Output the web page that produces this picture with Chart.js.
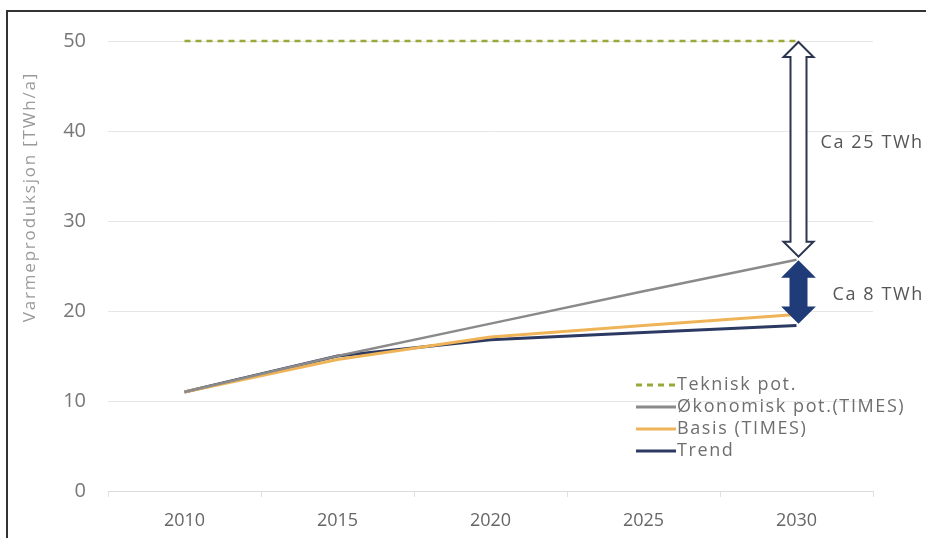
<!DOCTYPE html>
<html>
<head>
<meta charset="utf-8">
<script src="https://cdn.jsdelivr.net/npm/chart.js@4"></script>
<style>
body { margin: 0; background: #fff; }
#wrap { position: relative; width: 926px; height: 538px; overflow: hidden; }
#frame { position: absolute; left: 6px; top: 10px; right: -4px; bottom: -4px; border-left: 2px solid #333; border-top: 2px solid #333; pointer-events: none; }
</style>
</head>
<body>
<div id="wrap">
<canvas id="graph_varme" width="926" height="538"></canvas>
<div id="frame"></div>
</div>
<script>
// chart data
var years = ['2010', '2015', '2020', '2025', '2030']
var teknisk = [50, 50, 50, 50, 50]
var okonomisk = [11, 15, 18.6, 22.2, 25.7]
var basis = [11, 14.6, 17.1, 18.4, 19.6]
var trend = [11, 15, 16.8, 17.6, 18.4]
var yTicks = [0, 10, 20, 30, 40, 50]
var yTitle = 'Varmeproduksjon [TWh/a]'
var gapLabels = ['Ca 25 TWh', 'Ca 8 TWh']

function drawArrow(ctx, x, y1, y2, fill, stroke) {
	// vertical double headed arrow
	var bw = 8, hw = 15, hh = 15
	ctx.beginPath()
	ctx.moveTo(x, y1)
	ctx.lineTo(x + hw, y1 + hh)
	ctx.lineTo(x + bw, y1 + hh)
	ctx.lineTo(x + bw, y2 - hh)
	ctx.lineTo(x + hw, y2 - hh)
	ctx.lineTo(x, y2)
	ctx.lineTo(x - hw, y2 - hh)
	ctx.lineTo(x - bw, y2 - hh)
	ctx.lineTo(x - bw, y1 + hh)
	ctx.lineTo(x - hw, y1 + hh)
	ctx.closePath()
	ctx.fillStyle = fill
	ctx.fill()
	ctx.lineWidth = 2
	ctx.strokeStyle = stroke
	ctx.stroke()
}

var annotations = {
	id: 'annotations',
	afterDatasetsDraw: function (chart) {
		var ctx = chart.ctx
		var xs = chart.scales.x, ys = chart.scales.y
		var x = xs.getPixelForValue(4) + 2
		var yTop = ys.getPixelForValue(teknisk[4])
		var yMid = ys.getPixelForValue(okonomisk[4])
		var yLow = ys.getPixelForValue(trend[4])
		ctx.save()
		drawArrow(ctx, x, yTop + 1, yMid - 3, '#ffffff', '#2b3550')
		drawArrow(ctx, x, yMid + 2, yLow - 3, '#1f3b78', '#1f3b78')
		ctx.fillStyle = '#555'
		ctx.font = '18px "Open Sans", sans-serif'
		ctx.letterSpacing = '1.6px'
		ctx.textBaseline = 'middle'
		ctx.fillText(gapLabels[0], x + 22, (yTop + yMid) / 2 - 7)
		ctx.fillText(gapLabels[1], x + 34, (yMid + yLow) / 2 + 2)

		// y axis title
		ctx.save()
		ctx.translate(30, 197)
		ctx.rotate(-Math.PI / 2)
		ctx.textAlign = 'center'
		ctx.fillStyle = '#9a9a9a'
		ctx.font = '17px "Open Sans", sans-serif'
		ctx.letterSpacing = '1.8px'
		ctx.fillText(yTitle, 0, 0)
		ctx.restore()

		// legend inside plot
		var lx = 636, ly = 385
		ctx.font = '18px "Open Sans", sans-serif'
		ctx.letterSpacing = '1.6px'
		chart.data.datasets.forEach(function (ds, i) {
			var yy = ly + i * 22
			ctx.beginPath()
			ctx.setLineDash(ds.borderDash || [])
			ctx.strokeStyle = ds.borderColor
			ctx.lineWidth = 3
			ctx.moveTo(lx, yy)
			ctx.lineTo(lx + 40, yy)
			ctx.stroke()
			ctx.setLineDash([])
			ctx.fillStyle = '#6e6e6e'
			ctx.fillText(ds.label, lx + 41, yy)
		})
		ctx.restore()
	}
}

var config = {
	type: 'line',
	data: {
		labels: years,
		datasets: [
			{ label: 'Teknisk pot.', data: teknisk, borderColor: '#9aa83a', borderDash: [6, 5], borderWidth: 2.5 },
			{ label: 'Økonomisk pot.(TIMES)', data: okonomisk, borderColor: '#8a8a8a', borderWidth: 2.5 },
			{ label: 'Basis (TIMES)', data: basis, borderColor: '#f0b458', borderWidth: 3 },
			{ label: 'Trend', data: trend, borderColor: '#2c3a63', borderWidth: 3 }
		]
	},
	options: {
		responsive: false,
		animation: false,
		clip: false,
		layout: { padding: { left: 8, top: 41, right: 53, bottom: 0 } },
		elements: { point: { radius: 0 }, line: { tension: 0 } },
		plugins: { legend: { display: false }, tooltip: { enabled: false } },
		scales: {
			x: {
				offset: true,
				grid: { offset: true, color: '#e0e0e0', drawOnChartArea: false, tickLength: 6 },
				border: { color: '#dcdcdc' },
				ticks: { color: '#666', font: { size: 18, family: 'Open Sans' }, padding: 13 },
				afterFit: function (s) { s.height = 47 }
			},
			y: {
				min: 0, max: 50,
				afterBuildTicks: function (s) { s.ticks = yTicks.map(function (v) { return { value: v } }) },
				grid: { color: '#e6e6e6', drawTicks: false },
				border: { display: false },
				ticks: { color: '#777', font: { size: 20, family: 'Open Sans' }, padding: 22 },
				afterFit: function (s) { s.width = 100 }
			}
		}
	},
	plugins: [annotations]
}

window.jhwVarmeGraph = new Chart(document.getElementById('graph_varme'), config)
</script>
</body>
</html>
